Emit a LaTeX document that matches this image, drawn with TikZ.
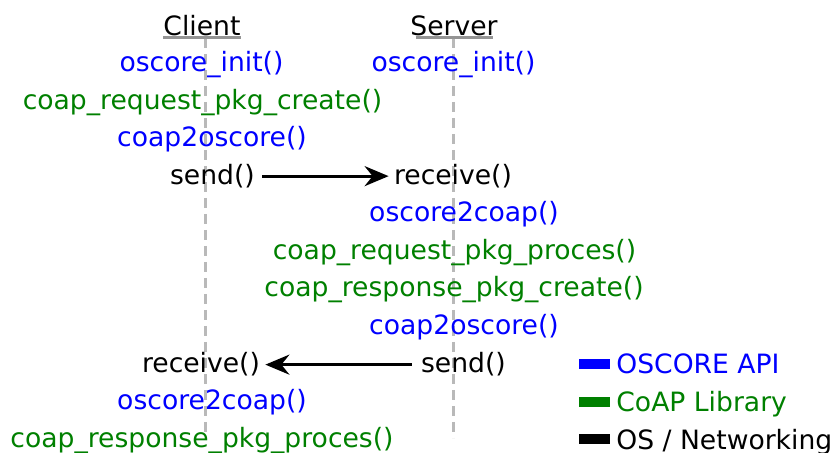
\documentclass[tikz,border=0pt]{standalone}
\usepackage{fontspec}
\setmainfont{DejaVu Sans}
\usetikzlibrary{arrows.meta}
\definecolor{apiblue}{RGB}{0,0,255}
\definecolor{libgreen}{RGB}{0,128,0}
\definecolor{lifegray}{RGB}{185,185,185}
\tikzset{
  lbl/.style={inner sep=0pt, anchor=base, font=\fontsize{13.3pt}{15pt}\selectfont},
  api/.style={lbl, text=apiblue},
  lib/.style={lbl, text=libgreen},
  os/.style={lbl, text=black},
  lifeline/.style={draw=lifegray, line width=1.5pt, dash pattern=on 5pt off 3pt},
  headline/.style={draw=lifegray!80!black, line width=1.5pt},
  msg/.style={draw=black, line width=1.5pt, -{Stealth[length=12pt,width=10pt,inset=4pt]}},
  legbox/.style={draw=none, minimum width=15.5pt, minimum height=5pt, inner sep=0pt}
}
\begin{document}
\begin{tikzpicture}[x=0.5pt,y=-0.5pt]
\useasboundingbox (0,0) rectangle (831,453);
% lifelines
\coordinate (cltop) at (205,38);
\coordinate (clbot) at (205,432);
\coordinate (svtop) at (453,38);
\coordinate (svbot) at (453,438);
\draw[lifeline] (cltop) -- (clbot);
\draw[lifeline] (svtop) -- (svbot);
% headers
\node[os] (client) at (202,36) {Client};
\node[os] (server) at (454,36) {Server};
\draw[headline] ([yshift=-0.5pt]client.south west) -- ([yshift=-0.5pt]client.south east);
\draw[headline] ([xshift=3pt,yshift=-0.5pt]server.south west) -- ([xshift=-2.5pt,yshift=-0.5pt]server.south east);
% client side
\node[api] (cinit) at (201.5,72) {oscore\_init()};
\node[lib] (creqc) at (202.5,109.5) {coap\_request\_pkg\_create()};
\node[api] (cc2o) at (212,147) {coap2oscore()};
\node[os] (csend) at (212.5,184.5) {send()};
\node[os] (crecv) at (201,373) {receive()};
\node[api] (co2c) at (212,410) {oscore2coap()};
\node[lib] (cresp) at (202,447.5) {coap\_response\_pkg\_proces()};
% server side
\node[api] (sinit) at (453.5,72) {oscore\_init()};
\node[os] (srecv) at (453,184.5) {receive()};
\node[api] (so2c) at (464,222) {oscore2coap()};
\node[lib] (sreqp) at (454.5,259.5) {coap\_request\_pkg\_proces()};
\node[lib] (sresc) at (454,297) {coap\_response\_pkg\_create()};
\node[api] (sc2o) at (464,334.5) {coap2oscore()};
\node[os] (ssend) at (463.5,373) {send()};
% messages
\draw[msg, shorten <=3.5pt, shorten >=2.5pt] (csend.east) -- (srecv.west);
\draw[msg, shorten <=4.5pt, shorten >=2.5pt] (ssend.west) -- (crecv.east);
% legend
\node[legbox, fill=apiblue, anchor=west] (lb1) at (579,364) {};
\node[legbox, fill=libgreen, anchor=west] (lb2) at (579,402) {};
\node[legbox, fill=black, anchor=west] (lb3) at (579,439.5) {};
\node[lbl, anchor=base west, text=apiblue] (lt1) at (616,374) {OSCORE API};
\node[lbl, anchor=base west, text=libgreen] (lt2) at (616,412) {CoAP Library};
\node[lbl, anchor=base west, text=black] (lt3) at (616,449.5) {OS / Networking};
\end{tikzpicture}
\end{document}
